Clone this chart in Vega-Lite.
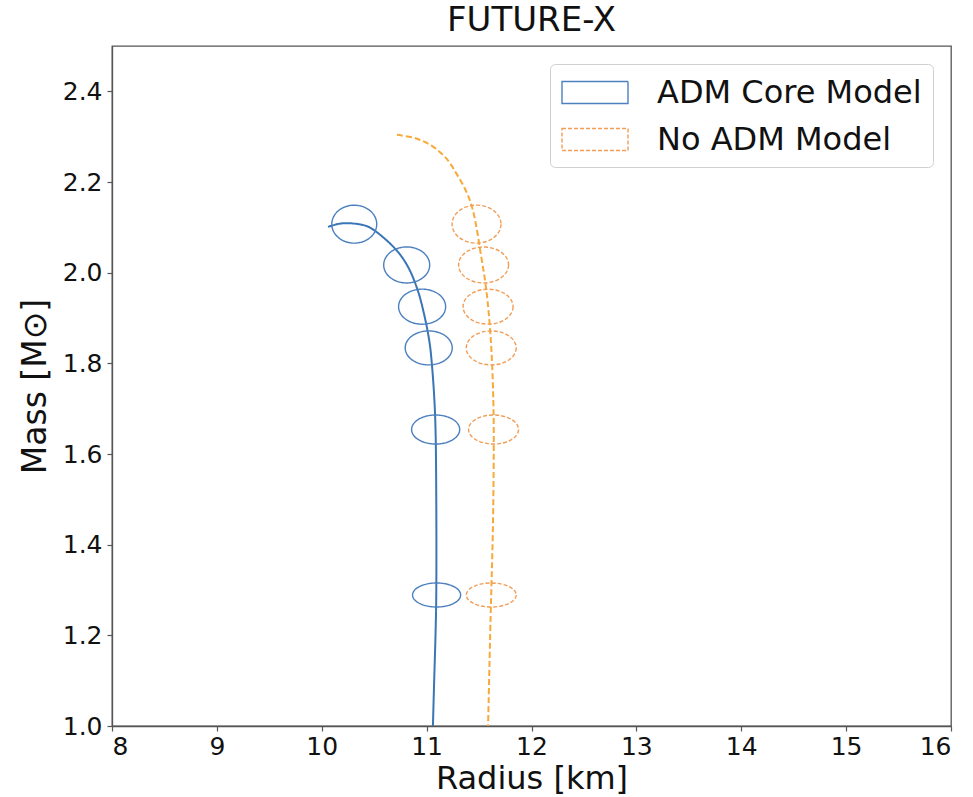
{
  "$schema": "https://vega.github.io/schema/vega-lite/v6.json",
  "autosize": {"type": "none"},
  "padding": {"left": 112, "top": 46, "right": 22, "bottom": 71},
  "width": 839,
  "height": 680,
  "background": "white",
  "config": {
    "font": "DejaVu Sans",
    "view": {"stroke": "#555555", "strokeWidth": 1.3},
    "axis": {
      "grid": false,
      "domainColor": "#555555",
      "domainWidth": 1.3,
      "tickColor": "#555555",
      "tickSize": 5,
      "tickWidth": 1.2,
      "labelFont": "DejaVu Sans",
      "labelFontSize": 25,
      "labelColor": "#111111",
      "labelPadding": 5,
      "titleFont": "DejaVu Sans",
      "titleFontSize": 33,
      "titleFontWeight": "normal",
      "titleColor": "#111111"
    }
  },
  "title": {
    "text": "FUTURE-X",
    "font": "DejaVu Sans",
    "fontSize": 34,
    "fontWeight": "normal",
    "color": "#111111",
    "offset": 3,
    "dy": 29,
    "baseline": "bottom"
  },
  "datasets": {
    "curves": [
      {"series": "ADM Core Model", "i": 1, "R": 10.06, "M": 2.101},
      {"series": "ADM Core Model", "i": 2, "R": 10.17, "M": 2.108},
      {"series": "ADM Core Model", "i": 3, "R": 10.267, "M": 2.109},
      {"series": "ADM Core Model", "i": 4, "R": 10.426, "M": 2.103},
      {"series": "ADM Core Model", "i": 5, "R": 10.521, "M": 2.090},
      {"series": "ADM Core Model", "i": 6, "R": 10.711, "M": 2.050},
      {"series": "ADM Core Model", "i": 7, "R": 10.822, "M": 2.013},
      {"series": "ADM Core Model", "i": 8, "R": 10.914, "M": 1.962},
      {"series": "ADM Core Model", "i": 9, "R": 10.981, "M": 1.903},
      {"series": "ADM Core Model", "i": 10, "R": 11.029, "M": 1.844},
      {"series": "ADM Core Model", "i": 11, "R": 11.052, "M": 1.793},
      {"series": "ADM Core Model", "i": 12, "R": 11.074, "M": 1.719},
      {"series": "ADM Core Model", "i": 13, "R": 11.085, "M": 1.653},
      {"series": "ADM Core Model", "i": 14, "R": 11.092, "M": 1.499},
      {"series": "ADM Core Model", "i": 15, "R": 11.092, "M": 1.293},
      {"series": "ADM Core Model", "i": 16, "R": 11.086, "M": 1.212},
      {"series": "ADM Core Model", "i": 17, "R": 11.072, "M": 1.1},
      {"series": "ADM Core Model", "i": 18, "R": 11.06, "M": 1.0},
      {"series": "No ADM Model", "i": 1, "R": 10.717, "M": 2.304},
      {"series": "No ADM Model", "i": 2, "R": 10.902, "M": 2.296},
      {"series": "No ADM Model", "i": 3, "R": 11.060, "M": 2.278},
      {"series": "No ADM Model", "i": 4, "R": 11.188, "M": 2.252},
      {"series": "No ADM Model", "i": 5, "R": 11.283, "M": 2.219},
      {"series": "No ADM Model", "i": 6, "R": 11.378, "M": 2.179},
      {"series": "No ADM Model", "i": 7, "R": 11.441, "M": 2.138},
      {"series": "No ADM Model", "i": 8, "R": 11.521, "M": 2.035},
      {"series": "No ADM Model", "i": 9, "R": 11.569, "M": 1.962},
      {"series": "No ADM Model", "i": 10, "R": 11.612, "M": 1.852},
      {"series": "No ADM Model", "i": 11, "R": 11.636, "M": 1.719},
      {"series": "No ADM Model", "i": 12, "R": 11.640, "M": 1.609},
      {"series": "No ADM Model", "i": 13, "R": 11.631, "M": 1.426},
      {"series": "No ADM Model", "i": 14, "R": 11.616, "M": 1.293},
      {"series": "No ADM Model", "i": 15, "R": 11.607, "M": 1.212},
      {"series": "No ADM Model", "i": 16, "R": 11.586, "M": 1.0}
    ],
    "ellipses": [
      {"series": "ADM Core Model", "id": "B1", "R": 10.31, "M": 2.107, "dR": 0.214, "dM": 0.042},
      {"series": "ADM Core Model", "id": "B2", "R": 10.81, "M": 2.017, "dR": 0.219, "dM": 0.040},
      {"series": "ADM Core Model", "id": "B3", "R": 10.957, "M": 1.925, "dR": 0.224, "dM": 0.0386},
      {"series": "ADM Core Model", "id": "B4", "R": 11.02, "M": 1.834, "dR": 0.224, "dM": 0.0375},
      {"series": "ADM Core Model", "id": "B5", "R": 11.086, "M": 1.654, "dR": 0.229, "dM": 0.032},
      {"series": "ADM Core Model", "id": "B6", "R": 11.095, "M": 1.289, "dR": 0.229, "dM": 0.0265},
      {"series": "No ADM Model", "id": "O1", "R": 11.476, "M": 2.107, "dR": 0.233, "dM": 0.042},
      {"series": "No ADM Model", "id": "O2", "R": 11.543, "M": 2.017, "dR": 0.238, "dM": 0.040},
      {"series": "No ADM Model", "id": "O3", "R": 11.586, "M": 1.925, "dR": 0.238, "dM": 0.0386},
      {"series": "No ADM Model", "id": "O4", "R": 11.616, "M": 1.834, "dR": 0.238, "dM": 0.0375},
      {"series": "No ADM Model", "id": "O5", "R": 11.638, "M": 1.654, "dR": 0.238, "dM": 0.032},
      {"series": "No ADM Model", "id": "O6", "R": 11.616, "M": 1.289, "dR": 0.238, "dM": 0.0265}
    ]
  },
  "layer": [
    {
      "data": {"name": "curves"},
      "mark": {"type": "line", "strokeWidth": 2, "interpolate": "catmull-rom", "clip": true},
      "encoding": {
        "x": {"field": "R", "type": "quantitative", "scale": {"domain": [8, 16], "nice": false, "zero": false},
              "axis": {"title": "Radius [km]", "values": [8, 9, 10, 11, 12, 13, 14, 15, 16], "format": "d", "labelPadding": 3, "titlePadding": 4, "titleFontSize": 32}},
        "y": {"field": "M", "type": "quantitative", "scale": {"domain": [1.0, 2.5], "nice": false, "zero": false},
              "axis": {"title": "Mass [M⊙]", "values": [1.0, 1.2, 1.4, 1.6, 1.8, 2.0, 2.2, 2.4], "format": ".1f", "titlePadding": 10}},
        "detail": {"field": "series"},
        "order": {"field": "i", "type": "quantitative"},
        "stroke": {"condition": {"test": "datum.series === 'ADM Core Model'", "value": "#3a76b6"}, "value": "#f7a93a"},
        "strokeDash": {"condition": {"test": "datum.series === 'ADM Core Model'", "value": [1, 0]}, "value": [6, 3]}
      }
    },
    {
      "data": {"name": "ellipses"},
      "mark": {"type": "point", "filled": false, "strokeWidth": 1.4, "opacity": 1, "clip": true},
      "encoding": {
        "x": {"field": "R", "type": "quantitative"},
        "y": {"field": "M", "type": "quantitative"},
        "color": {
          "field": "series", "type": "nominal",
          "scale": {"domain": ["ADM Core Model", "No ADM Model"], "range": ["#4d80bf", "#f29d57"]},
          "legend": {
            "title": null,
            "orient": "top-right",
            "offset": 18,
            "padding": 11,
            "fillColor": "white",
            "strokeColor": "#d0d0d0",
            "cornerRadius": 5,
            "symbolType": "M -1 -0.667 L 3 -0.667 L 3 0.667 L -1 0.667 Z",
            "symbolSize": 1089,
            "symbolStrokeWidth": 1.4,
            "symbolFillColor": "transparent",
            "labelFont": "DejaVu Sans",
            "labelFontSize": 32,
            "labelColor": "#111111",
            "labelOffset": 61,
            "rowPadding": 13,
            "labelLimit": 400
          }
        },
        "strokeDash": {
          "field": "series", "type": "nominal",
          "scale": {"domain": ["ADM Core Model", "No ADM Model"], "range": [[1, 0], [4, 2]]},
          "legend": {"title": null}
        },
        "shape": {
          "field": "id", "type": "nominal", "legend": null,
          "scale": {
            "domain": ["B1", "B2", "B3", "B4", "B5", "B6", "O1", "O2", "O3", "O4", "O5", "O6"],
            "range": [
              "M 1 0 C 1 0.466 0.5523 0.844 0 0.844 C -0.5523 0.844 -1 0.466 -1 0 C -1 -0.466 -0.5523 -0.844 0 -0.844 C 0.5523 -0.844 1 -0.466 1 0 Z",
              "M 1 0 C 1 0.432 0.5523 0.783 0 0.783 C -0.5523 0.783 -1 0.432 -1 0 C -1 -0.432 -0.5523 -0.783 0 -0.783 C 0.5523 -0.783 1 -0.432 1 0 Z",
              "M 1 0 C 1 0.411 0.5523 0.745 0 0.745 C -0.5523 0.745 -1 0.411 -1 0 C -1 -0.411 -0.5523 -0.745 0 -0.745 C 0.5523 -0.745 1 -0.411 1 0 Z",
              "M 1 0 C 1 0.399 0.5523 0.723 0 0.723 C -0.5523 0.723 -1 0.399 -1 0 C -1 -0.399 -0.5523 -0.723 0 -0.723 C 0.5523 -0.723 1 -0.399 1 0 Z",
              "M 1 0 C 1 0.334 0.5523 0.604 0 0.604 C -0.5523 0.604 -1 0.334 -1 0 C -1 -0.334 -0.5523 -0.604 0 -0.604 C 0.5523 -0.604 1 -0.334 1 0 Z",
              "M 1 0 C 1 0.276 0.5523 0.5 0 0.5 C -0.5523 0.5 -1 0.276 -1 0 C -1 -0.276 -0.5523 -0.5 0 -0.5 C 0.5523 -0.5 1 -0.276 1 0 Z",
              "M 1 0 C 1 0.429 0.5523 0.776 0 0.776 C -0.5523 0.776 -1 0.429 -1 0 C -1 -0.429 -0.5523 -0.776 0 -0.776 C 0.5523 -0.776 1 -0.429 1 0 Z",
              "M 1 0 C 1 0.398 0.5523 0.72 0 0.72 C -0.5523 0.72 -1 0.398 -1 0 C -1 -0.398 -0.5523 -0.72 0 -0.72 C 0.5523 -0.72 1 -0.398 1 0 Z",
              "M 1 0 C 1 0.387 0.5523 0.70 0 0.70 C -0.5523 0.70 -1 0.387 -1 0 C -1 -0.387 -0.5523 -0.70 0 -0.70 C 0.5523 -0.70 1 -0.387 1 0 Z",
              "M 1 0 C 1 0.376 0.5523 0.68 0 0.68 C -0.5523 0.68 -1 0.376 -1 0 C -1 -0.376 -0.5523 -0.68 0 -0.68 C 0.5523 -0.68 1 -0.376 1 0 Z",
              "M 1 0 C 1 0.320 0.5523 0.58 0 0.58 C -0.5523 0.58 -1 0.320 -1 0 C -1 -0.320 -0.5523 -0.58 0 -0.58 C 0.5523 -0.58 1 -0.320 1 0 Z",
              "M 1 0 C 1 0.265 0.5523 0.48 0 0.48 C -0.5523 0.48 -1 0.265 -1 0 C -1 -0.265 -0.5523 -0.48 0 -0.48 C 0.5523 -0.48 1 -0.265 1 0 Z"
            ]
          }
        },
        "size": {
          "field": "dR", "type": "quantitative", "legend": null,
          "scale": {"type": "pow", "exponent": 2, "domain": [0, 0.25], "range": [0, 2756.25], "zero": true}
        }
      }
    }
  ]
}
